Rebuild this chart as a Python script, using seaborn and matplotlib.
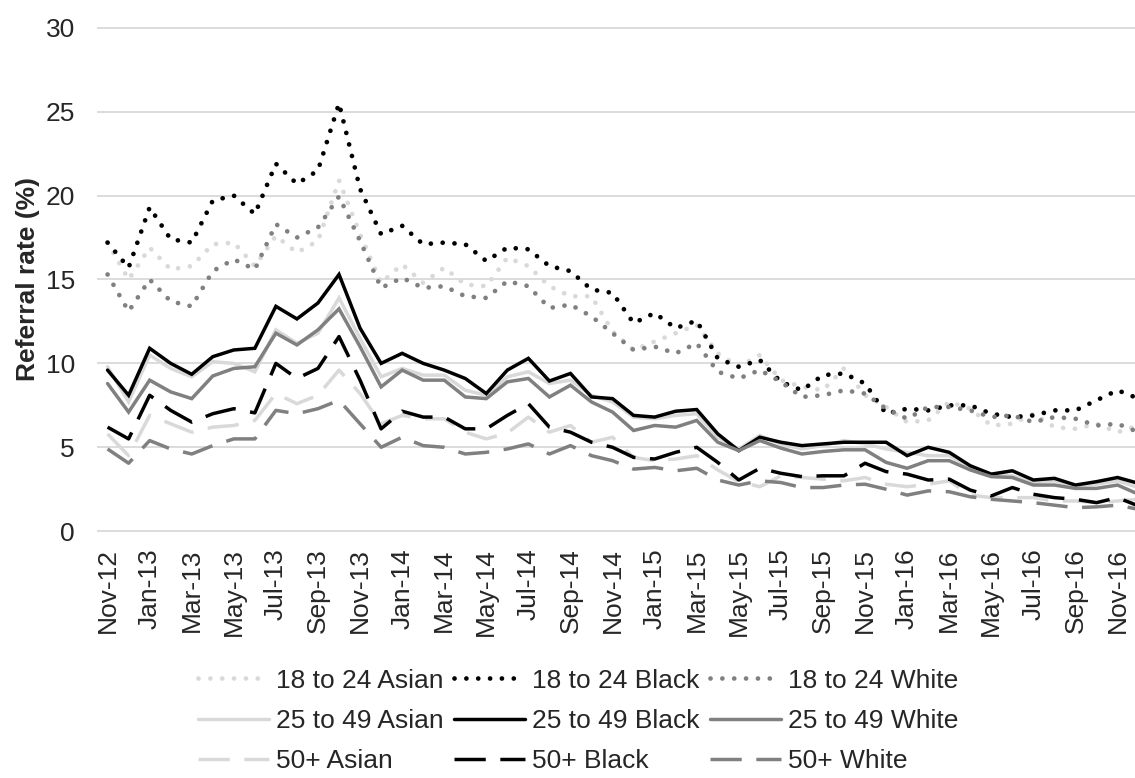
import pandas as pd
import matplotlib.pyplot as plt
import seaborn as sns
import numpy as np

# monthly referral rates, Nov-12 .. Dec-16
months = pd.date_range("2012-11-01", periods=50, freq="MS").strftime("%b-%y").tolist()

asian_18_24 = [17.2, 15.0, 16.9, 15.6, 15.8, 17.1, 17.2, 15.8, 17.6, 16.6, 17.3, 20.9, 17.7, 14.8, 15.9, 14.8,
               15.7, 14.7, 14.6, 16.3, 15.8, 14.6, 14.0, 14.0, 11.9, 10.8, 11.3, 11.8, 12.3, 10.6, 9.8, 10.5,
               9.0, 8.6, 8.4, 9.7, 8.1, 7.4, 6.5, 6.6, 7.7, 7.3, 6.3, 6.4, 7.0, 6.2, 6.1, 6.4, 5.9, 6.3]
black_18_24 = [17.2, 15.7, 19.3, 17.4, 17.2, 19.7, 20.0, 18.9, 21.9, 20.7, 21.5, 25.5, 20.4, 17.7, 18.2, 17.1,
               17.2, 17.1, 16.1, 16.9, 16.8, 15.8, 15.5, 14.4, 14.2, 12.4, 13.0, 12.1, 12.55, 10.3, 9.8, 10.2,
               8.9, 8.4, 9.3, 9.4, 8.8, 7.0, 7.3, 7.2, 7.5, 7.5, 7.0, 6.8, 6.9, 7.2, 7.2, 7.8, 8.4, 7.9]
white_18_24 = [15.3, 13.1, 15.0, 13.7, 13.4, 15.5, 16.2, 15.6, 18.3, 17.5, 18.1, 19.95, 17.3, 14.5, 15.1, 14.5,
               14.6, 14.0, 13.9, 14.9, 14.6, 13.3, 13.5, 12.8, 11.8, 10.8, 11.0, 10.6, 11.2, 9.5, 9.1, 9.6,
               8.9, 8.0, 8.1, 8.4, 8.2, 7.3, 6.7, 7.4, 7.4, 7.2, 6.8, 6.9, 6.5, 6.8, 6.7, 6.3, 6.4, 5.9]

asian_25_49 = [9.8, 7.7, 10.5, 9.7, 9.2, 10.1, 10.0, 9.5, 12.0, 11.2, 11.8, 13.9, 11.5, 9.2, 9.7, 9.3,
               9.3, 8.4, 8.1, 9.2, 9.5, 8.8, 9.0, 8.1, 7.7, 6.8, 6.7, 6.9, 7.0, 5.6, 4.9, 5.7,
               5.2, 4.9, 5.1, 5.4, 5.2, 4.9, 4.7, 4.5, 4.5, 3.8, 3.4, 3.3, 2.9, 3.0, 2.7, 2.8, 3.0, 2.6]
black_25_49 = [9.6, 8.1, 10.9, 10.0, 9.35, 10.4, 10.8, 10.9, 13.4, 12.65, 13.6, 15.3, 12.1, 10.0, 10.6, 10.0,
               9.6, 9.1, 8.2, 9.6, 10.3, 8.95, 9.4, 8.0, 7.9, 6.9, 6.8, 7.15, 7.25, 5.8, 4.8, 5.6,
               5.3, 5.1, 5.2, 5.3, 5.3, 5.3, 4.5, 5.0, 4.7, 3.9, 3.4, 3.6, 3.05, 3.15, 2.75, 2.95, 3.2, 2.85]
white_25_49 = [8.8, 7.1, 9.0, 8.3, 7.9, 9.25, 9.7, 9.8, 11.8, 11.1, 12.0, 13.25, 11.0, 8.6, 9.6, 9.0,
               9.0, 8.0, 7.9, 8.9, 9.1, 8.0, 8.7, 7.7, 7.1, 6.0, 6.3, 6.2, 6.6, 5.3, 4.8, 5.4,
               4.95, 4.6, 4.75, 4.85, 4.85, 4.1, 3.75, 4.2, 4.2, 3.65, 3.25, 3.2, 2.75, 2.75, 2.55, 2.55, 2.75, 2.2]

asian_50 = [5.8, 4.5, 6.9, 6.4, 5.9, 6.2, 6.3, 6.6, 8.2, 7.6, 8.1, 9.6, 8.2, 6.4, 6.9, 6.7,
            6.7, 5.9, 5.5, 5.85, 6.8, 5.9, 6.3, 5.3, 5.6, 4.4, 4.2, 4.3, 4.5, 3.65, 2.95, 2.65,
            3.3, 3.2, 3.1, 3.0, 3.2, 2.8, 2.65, 2.8, 3.0, 2.15, 2.0, 2.0, 2.0, 1.8, 1.8, 1.7, 1.8, 1.9]
black_50 = [6.2, 5.5, 8.1, 7.2, 6.5, 7.0, 7.3, 7.05, 10.0, 9.1, 9.7, 11.6, 9.0, 6.1, 7.15, 6.8,
            6.8, 6.1, 6.1, 6.9, 7.6, 6.2, 5.9, 5.3, 5.0, 4.4, 4.3, 4.7, 5.0, 4.1, 3.05, 3.75,
            3.45, 3.25, 3.3, 3.3, 4.05, 3.55, 3.4, 3.05, 3.1, 2.45, 2.1, 2.6, 2.2, 2.0, 1.9, 1.7, 2.0, 1.5]
white_50 = [4.9, 4.05, 5.4, 4.9, 4.6, 5.1, 5.5, 5.5, 7.2, 7.0, 7.3, 7.8, 6.4, 5.0, 5.6, 5.1,
            5.0, 4.6, 4.7, 4.9, 5.2, 4.6, 5.1, 4.5, 4.2, 3.7, 3.8, 3.6, 3.75, 3.05, 2.75, 3.0,
            2.9, 2.6, 2.6, 2.75, 2.8, 2.5, 2.15, 2.4, 2.35, 2.05, 1.9, 1.8, 1.7, 1.55, 1.4, 1.45, 1.55, 1.3]

ages = ["18 to 24", "25 to 49", "50+"]
races = ["Asian", "Black", "White"]
values = {
    ("18 to 24", "Asian"): asian_18_24, ("18 to 24", "Black"): black_18_24, ("18 to 24", "White"): white_18_24,
    ("25 to 49", "Asian"): asian_25_49, ("25 to 49", "Black"): black_25_49, ("25 to 49", "White"): white_25_49,
    ("50+", "Asian"): asian_50, ("50+", "Black"): black_50, ("50+", "White"): white_50,
}

rows = []
for (age, race), vals in values.items():
    for i, v in enumerate(vals):
        rows.append({"month": i, "rate": v, "age": age, "race": race})
df = pd.DataFrame(rows)

race_colors = {"Asian": "#D9D9D9", "Black": "#000000", "White": "#808080"}
age_styles = {
    "18 to 24": dict(linestyle=(0, (0.01, 2.5)), dash_capstyle="round", lw=3.4),
    "25 to 49": dict(linestyle="-", lw=2.5, solid_joinstyle="miter"),
    "50+": dict(linestyle=(0, (9.0, 4.2)), dash_capstyle="butt", lw=2.5),
}

FS = 19

sns.set_style("white")
plt.rcParams["font.family"] = ["Liberation Sans", "DejaVu Sans"]
plt.rcParams["font.size"] = FS

fig = plt.figure(figsize=(11.35, 7.78), dpi=100)
ax = fig.add_axes([0.0855, 0.3166, 0.9145, 0.6483])

handles = {}
for age in ages:
    for race in races:
        sub = df[(df["age"] == age) & (df["race"] == race)]
        sns.lineplot(data=sub, x="month", y="rate", ax=ax, color=race_colors[race],
                     label=f"{age} {race}", **age_styles[age])
for line in ax.get_lines():
    handles[line.get_label()] = line

ax.set_xlim(-0.5, 48.83)
ax.set_ylim(-0.03, 30.03)
ax.set_yticks(range(0, 31, 5))
ax.set_xticks(range(0, 50, 2))
ax.set_xticklabels(months[::2], rotation=90)
ax.tick_params(axis="y", length=0, pad=16, labelsize=FS)
ax.tick_params(axis="x", length=0, pad=12, labelsize=FS)
ax.grid(axis="y", color="#D9D9D9", lw=1.3)
ax.grid(axis="x", visible=False)
ax.set_axisbelow(True)
for s in ax.spines.values():
    s.set_visible(False)

ax.set_xlabel("")
ax.set_ylabel("Referral rate (%)", fontweight="bold", fontsize=FS)
ax.yaxis.set_label_coords(-0.0554, 0.5)

# legend ordered so it reads row by row (matplotlib fills columns first)
order = [f"{a} {r}" for r in races for a in ages]
ax.legend([handles[k] for k in order], order, ncol=3, loc="center",
          bbox_to_anchor=(578 / 1135, 1 - 721 / 778), bbox_transform=fig.transFigure,
          frameon=False, fontsize=FS, handlelength=2.7, handletextpad=0.25,
          columnspacing=0.4, labelspacing=0.62)

fig.savefig("out.png", dpi=100)
